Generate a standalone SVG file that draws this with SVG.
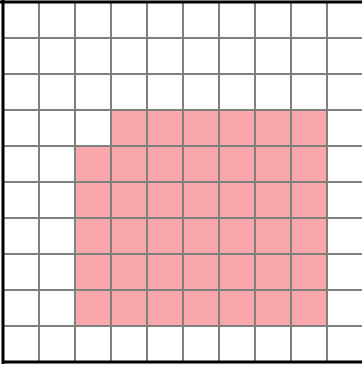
<svg xmlns="http://www.w3.org/2000/svg" width="362" height="366" viewBox="0 0 362 366">
<style>
.fill{fill:#F9A7AB;stroke:none}
.grid{stroke:#808080;stroke-width:2;fill:none}
.edge{stroke:#000;stroke-width:3;fill:none}
</style>
<rect x="0" y="0" width="362" height="366" fill="#fff"/>
<g id="shaded">
<rect class="fill" x="111" y="110" width="216" height="36"/>
<rect class="fill" x="75" y="146" width="252" height="180"/>
</g>
<g id="grid">
<path class="grid" d="M39 2V362M75 2V362M111 2V362M147 2V362M183 2V362M219 2V362M255 2V362M291 2V362M327 2V362"/>
<path class="grid" d="M3 38H362M3 74H362M3 110H362M3 146H362M3 182H362M3 218H362M3 254H362M3 290H362M3 326H362"/>
</g>
<g id="border">
<path class="edge" d="M0 2H362M3 0V364M1.5 362H362"/>
</g>
</svg>
